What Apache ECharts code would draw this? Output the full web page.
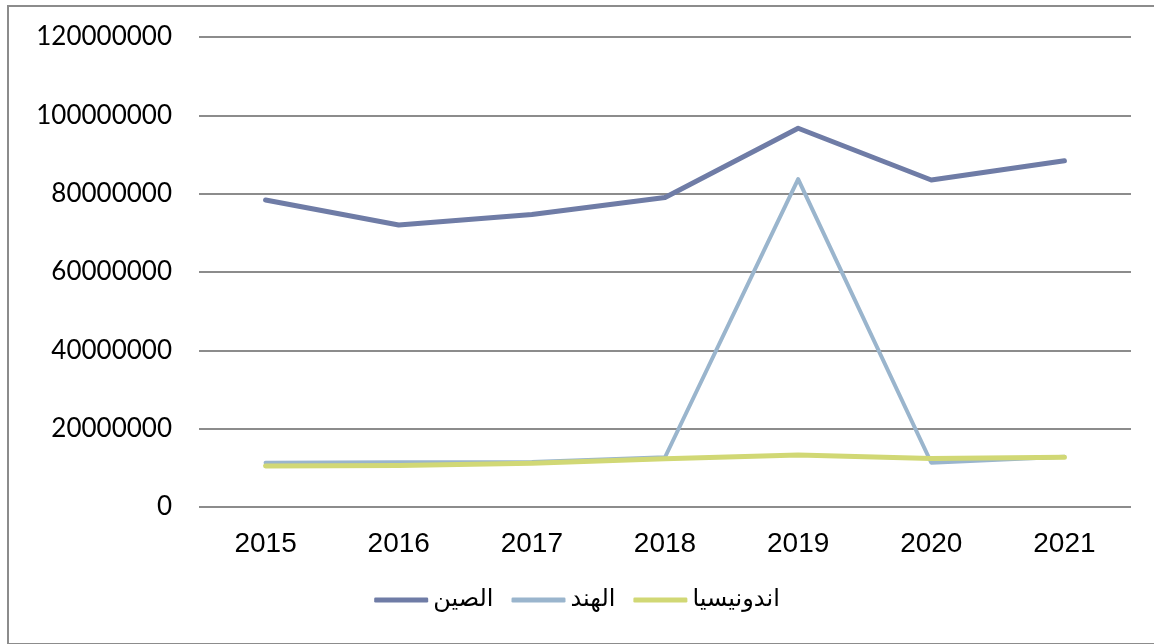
<!DOCTYPE html>
<html><head><meta charset="utf-8">
<script src="https://cdn.jsdelivr.net/npm/echarts@6/dist/echarts.min.js"></script>
<style>
html,body{margin:0;padding:0;background:#fff;}
#frame{position:absolute;left:7px;top:5px;width:1160px;height:636px;border:2px solid #8c8c8c;box-sizing:content-box;}
#chart{position:absolute;left:0;top:0;width:1154px;height:644px;}
</style></head>
<body>
<div id="frame"></div>
<div id="chart"></div>
<script>
const categories = ['2015','2016','2017','2018','2019','2020','2021'];
const seriesNames = ['الصين','الهند','اندونيسيا'];
const china = [78400000, 72000000, 74700000, 79000000, 96700000, 83500000, 88400000];
const india = [11300000, 11400000, 11500000, 12700000, 83700000, 11300000, 12800000];
const indonesia = [10500000, 10600000, 11200000, 12300000, 13300000, 12400000, 12700000];
const yTicks = [0, 20000000, 40000000, 60000000, 80000000, 100000000, 120000000];
const colors = ['#6F7CA6', '#9AB5CD', '#D1D875'];

const chart = echarts.init(document.getElementById('chart'));
chart.setOption({
  animation: false,
  backgroundColor: 'transparent',
  color: colors,
  grid: { left: 199, right: 23, top: 37, bottom: 137 },
  legend: {
    bottom: 27,
    left: 'center',
    icon: 'roundRect',
    itemWidth: 54,
    itemHeight: 5,
    itemGap: 18,
    textStyle: { fontFamily: 'DejaVu Sans, Noto Sans', fontSize: 24, color: '#000' },
    data: seriesNames
  },
  xAxis: {
    type: 'category',
    data: categories,
    boundaryGap: true,
    axisLine: { show: false },
    axisTick: { show: false },
    axisLabel: { fontFamily: 'Liberation Sans', fontSize: 28, color: '#000', margin: 23 }
  },
  yAxis: {
    type: 'value',
    min: yTicks[0],
    max: yTicks[yTicks.length - 1],
    interval: 20000000,
    axisLine: { show: false },
    axisTick: { show: false },
    splitLine: { lineStyle: { color: '#8c8c8c', width: 2 } },
    axisLabel: { fontFamily: 'Lato', fontSize: 26, color: '#000', margin: 27,
      formatter: v => String(v) }
  },
  series: [
    { name: seriesNames[0], type: 'line', data: china, symbol: 'none',
      lineStyle: { width: 5, color: colors[0], cap: 'round', join: 'round' } },
    { name: seriesNames[1], type: 'line', data: india, symbol: 'none',
      lineStyle: { width: 4, color: colors[1], cap: 'round', join: 'round' } },
    { name: seriesNames[2], type: 'line', data: indonesia, symbol: 'none',
      lineStyle: { width: 5, color: colors[2], cap: 'round', join: 'round' } }
  ]
});
</script>
</body></html>
